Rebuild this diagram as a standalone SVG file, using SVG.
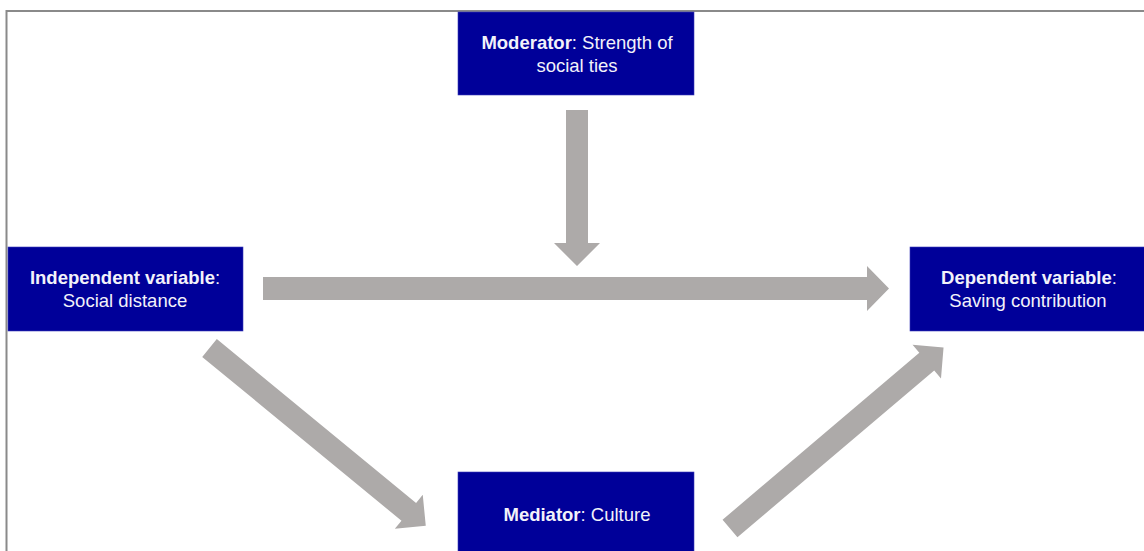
<svg xmlns="http://www.w3.org/2000/svg" width="1144" height="551" viewBox="0 0 1144 551">
<style>
.box{fill:#000099;stroke:#3a3ab8;stroke-width:0.6}
.t{font-family:"Liberation Sans",Arial,sans-serif;font-size:18.5px;fill:#f2f2fa;text-anchor:middle}
.b{font-weight:bold}
.arr{fill:#adaaa9}
</style>
<rect x="0" y="0" width="1144" height="551" fill="#ffffff"/>
<path d="M6.5,551 V11 H1144" fill="none" stroke="#8a8a8a" stroke-width="2"/>
<g id="connectors">
<polygon class="arr" points="263,277 867,277 867,266 889,288.5 867,311 867,300 263,300"/>
<polygon class="arr" points="566,110 588,110 588,243 600,243 577,266 554,243 566,243"/>
<g transform="translate(209.5,348) rotate(39.43)">
<polygon class="arr" points="0,-11.5 258,-11.5 258,-22 280,0 258,22 258,11.5 0,11.5"/>
</g>
<g transform="translate(730,528.5) rotate(-40.3)">
<polygon class="arr" points="0,-11.5 258,-11.5 258,-22 280,0 258,22 258,11.5 0,11.5"/>
</g>
</g>
<g id="moderator">
<rect class="box" x="458" y="12" width="236" height="83"/>
<text class="t" x="577" y="49"><tspan class="b">Moderator</tspan>: Strength of</text>
<text class="t" x="577" y="72">social ties</text>
</g>
<g id="independent">
<rect class="box" x="8" y="247" width="235" height="84"/>
<text class="t" x="125" y="284"><tspan class="b">Independent variable</tspan>:</text>
<text class="t" x="125" y="307">Social distance</text>
</g>
<g id="dependent">
<rect class="box" x="910" y="247" width="238" height="84"/>
<text class="t" x="1029" y="284"><tspan class="b">Dependent variable</tspan>:</text>
<text class="t" x="1028" y="307">Saving contribution</text>
</g>
<g id="mediator">
<rect class="box" x="458" y="472" width="236" height="82"/>
<text class="t" x="577" y="521"><tspan class="b">Mediator</tspan>: Culture</text>
</g>
</svg>
